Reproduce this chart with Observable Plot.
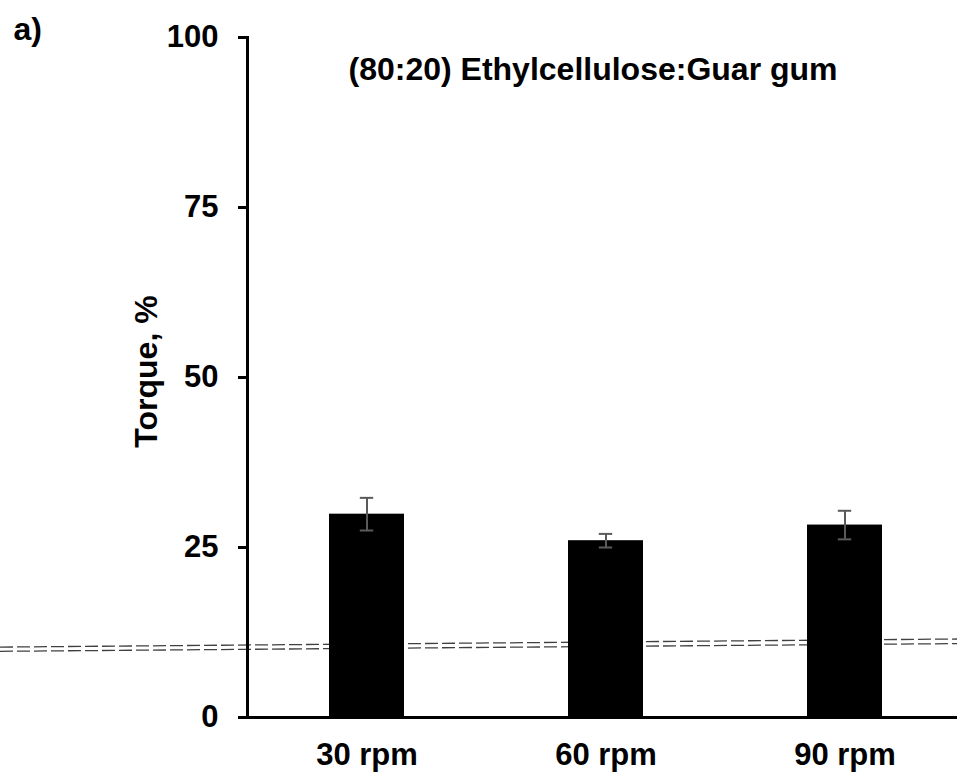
<!DOCTYPE html>
<html>
<head>
<meta charset="utf-8">
<script src="https://cdn.jsdelivr.net/npm/d3@7"></script>
<script src="https://cdn.jsdelivr.net/npm/@observablehq/plot@0.6"></script>
<style>
  body { margin: 0; background: #fff; }
</style>
</head>
<body>
<div id="chart"></div>
<script>
// datos
const velocidades = ['30 rpm', '60 rpm', '90 rpm']
const torque = [29.9, 26.0, 28.3]
const desvio = [2.4, 1.0, 2.1]
const yTicks = [0, 25, 50, 75, 100]

// líneas punteadas que cruzan el gráfico (extremo izq. / der., en unidades de torque)
const lineaIzq = [10.28, 9.66]
const lineaDer = [11.47, 10.79]

const data = velocidades.map((v, i) => ({
  vel: v,
  torque: torque[i],
  lo: torque[i] - desvio[i],
  hi: torque[i] + desvio[i],
}))

const gris = '#5a5a5a'

let chart = Plot.plot({
  width: 957,
  height: 774,
  marginLeft: 247,
  marginRight: 0,
  marginTop: 37,
  marginBottom: 57,
  style: {
    fontFamily: '"Liberation Sans", Arial, sans-serif',
    fontSize: '31px',
    fontWeight: 'bold',
    color: '#000',
    background: '#fff',
  },
  x: {
    domain: velocidades,
    range: [247, 964],
    paddingInner: 0.688,
    paddingOuter: 0.344,
    label: null,
  },
  y: {
    domain: [0, 100],
    label: null,
  },
  marks: [
    Plot.barY(data, { x: 'vel', y: 'torque', fill: '#000' }),

    // barras de error
    Plot.ruleX(data, { x: 'vel', y1: 'lo', y2: 'hi', stroke: gris, strokeWidth: 2 }),
    Plot.tickY(data, { x: 'vel', y: 'lo', stroke: gris, strokeWidth: 2, insetLeft: 30.8, insetRight: 30.8 }),
    Plot.tickY(data, { x: 'vel', y: 'hi', stroke: gris, strokeWidth: 2, insetLeft: 30.8, insetRight: 30.8 }),

    // ejes
    Plot.ruleY([0], { stroke: '#000', strokeWidth: 3 }),
    Plot.frame({ anchor: 'left', stroke: '#000', strokeWidth: 3 }),
    Plot.axisY({ ticks: yTicks, tickSize: 9, tickPadding: 20, strokeWidth: 3, fontSize: 31, label: null }),
    Plot.axisX({ tickSize: 0, tickPadding: 25, fontSize: 31, label: null }),

    // textos
    Plot.text(['(80:20) Ethylcellulose:Guar gum'], {
      frameAnchor: 'top', textAnchor: 'middle', dx: -9.5, dy: 32, lineAnchor: 'middle', fontSize: 32,
    }),
    Plot.text(['a)'], {
      frameAnchor: 'top-left', textAnchor: 'start', dx: -234, dy: -8, lineAnchor: 'middle', fontSize: 32,
    }),
    Plot.text(['Torque, %'], {
      frameAnchor: 'left', textAnchor: 'middle', rotate: -90, dx: -101, dy: -6, lineAnchor: 'middle', fontSize: 32,
    }),
  ],
})

// líneas punteadas, debajo de las barras
const svg = d3.select(chart)
const y = chart.scale('y')
const g = svg.insert('g', 'g')
lineaIzq.forEach((v, i) => {
  g.append('line')
    .attr('x1', 0)
    .attr('x2', 957)
    .attr('y1', y.apply(v))
    .attr('y2', y.apply(lineaDer[i]))
    .attr('stroke', '#404040')
    .attr('stroke-width', 1.3)
    .attr('stroke-dasharray', '13,4')
})

d3.select('#chart').append(() => chart)
</script>
</body>
</html>
